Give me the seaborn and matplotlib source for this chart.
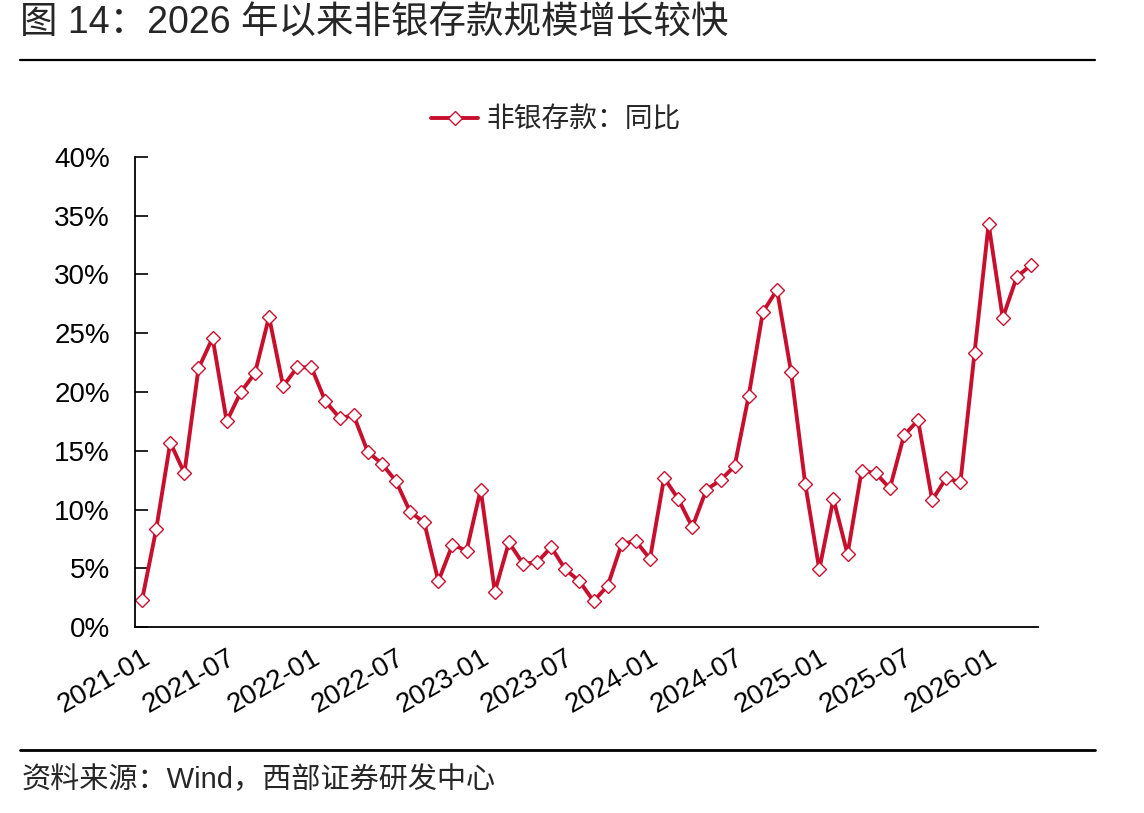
import matplotlib
matplotlib.use("Agg")
import matplotlib.pyplot as plt
from matplotlib.lines import Line2D
import seaborn as sns
import pandas as pd

# ---- data ----
months = [d.strftime("%Y-%m") for d in pd.date_range("2021-01-01", "2026-04-01", freq="MS")]
yoy = [2.3, 8.3, 15.7, 13.1, 22.0, 24.6, 17.5, 20.0, 21.6, 26.4, 20.5, 22.1,
       22.1, 19.2, 17.8, 18.0, 14.9, 13.9, 12.4, 9.8, 8.9, 3.9, 7.0, 6.5,
       11.7, 3.0, 7.2, 5.4, 5.5, 6.8, 4.9, 3.9, 2.2, 3.5, 7.1, 7.3,
       5.8, 12.7, 10.9, 8.5, 11.7, 12.5, 13.7, 19.7, 26.8, 28.7, 21.7, 12.2,
       4.9, 10.9, 6.2, 13.3, 13.1, 11.8, 16.3, 17.6, 10.8, 12.7, 12.3, 23.3,
       34.3, 26.3, 29.8, 30.8]
series_name = "非银存款：同比"
title = "图 14：2026 年以来非银存款规模增长较快"
source = "资料来源：Wind，西部证券研发中心"
y_ticks = [0, 5, 10, 15, 20, 25, 30, 35, 40]

df = pd.DataFrame({"month": months, "value": yoy, "series": series_name})
df["idx"] = range(len(df))

sns.set_style("white")
plt.rcParams["font.family"] = ["Liberation Sans", "Noto Sans CJK SC", "DejaVu Sans"]

W, H = 1144, 813
fig = plt.figure(figsize=(W / 100, H / 100), dpi=100)
ax = fig.add_axes([135 / W, 1 - 627 / H, (1038 - 135) / W, (627 - 157) / H])

red = "#C8102E"
sns.lineplot(data=df, x="idx", y="value", ax=ax, color=red, linewidth=2.8,
             marker="D", markersize=7.5, markerfacecolor="white",
             markeredgecolor=red, markeredgewidth=1.0, label=series_name)

ax.set_xlim(-0.5, len(months) - 0.5)
ax.set_ylim(0, 40)
ax.set_yticks(y_ticks)
ax.set_yticklabels([f"{v}%" for v in y_ticks])
ax.set_xlabel("")
ax.set_ylabel("")

# ticks between categories, labels at category centres
major = [i - 0.5 for i in range(0, len(months), 6)]
ax.set_xticks(major)
ax.set_xticklabels([])
lab_pos = list(range(0, len(months), 6))
ax.set_xticks(lab_pos, minor=True)
ax.set_xticklabels([months[i] for i in lab_pos], minor=True, rotation=30,
                   ha="right", va="top", rotation_mode="anchor")
ax.tick_params(axis="x", which="major", direction="in", length=9, width=1.2, color="black")
ax.tick_params(axis="x", which="minor", length=0, pad=13, labelsize=20, labelcolor="black")
ax.tick_params(axis="y", direction="in", length=9, width=1.2, color="black",
               pad=18, labelsize=20, labelcolor="black", left=True)

for s in ["top", "right"]:
    ax.spines[s].set_visible(False)
for s in ["left", "bottom"]:
    ax.spines[s].set_color("black")
    ax.spines[s].set_linewidth(1.3)

ax.legend(loc="center", bbox_to_anchor=(556 / W, 1 - 120 / H), bbox_transform=fig.transFigure,
          frameon=False, handlelength=1.7, handletextpad=0.3,
          prop={"family": ["Noto Sans CJK SC"], "size": 20})

fig.text(20 / W, 1 - 23 / H, title, fontsize=27, va="center", ha="left",
         family=["Liberation Sans", "Noto Sans CJK SC"])
fig.add_artist(Line2D([20 / W, 1095 / W], [1 - 60 / H] * 2, color="black", lw=1.6))
fig.add_artist(Line2D([20 / W, 1095 / W], [1 - 750 / H] * 2, color="black", lw=2.0))
fig.text(22 / W, 1 - 780 / H, source, fontsize=21, va="center", ha="left",
         family=["Liberation Sans", "Noto Sans CJK SC"])

fig.savefig("out.png", dpi=100, facecolor="white")
